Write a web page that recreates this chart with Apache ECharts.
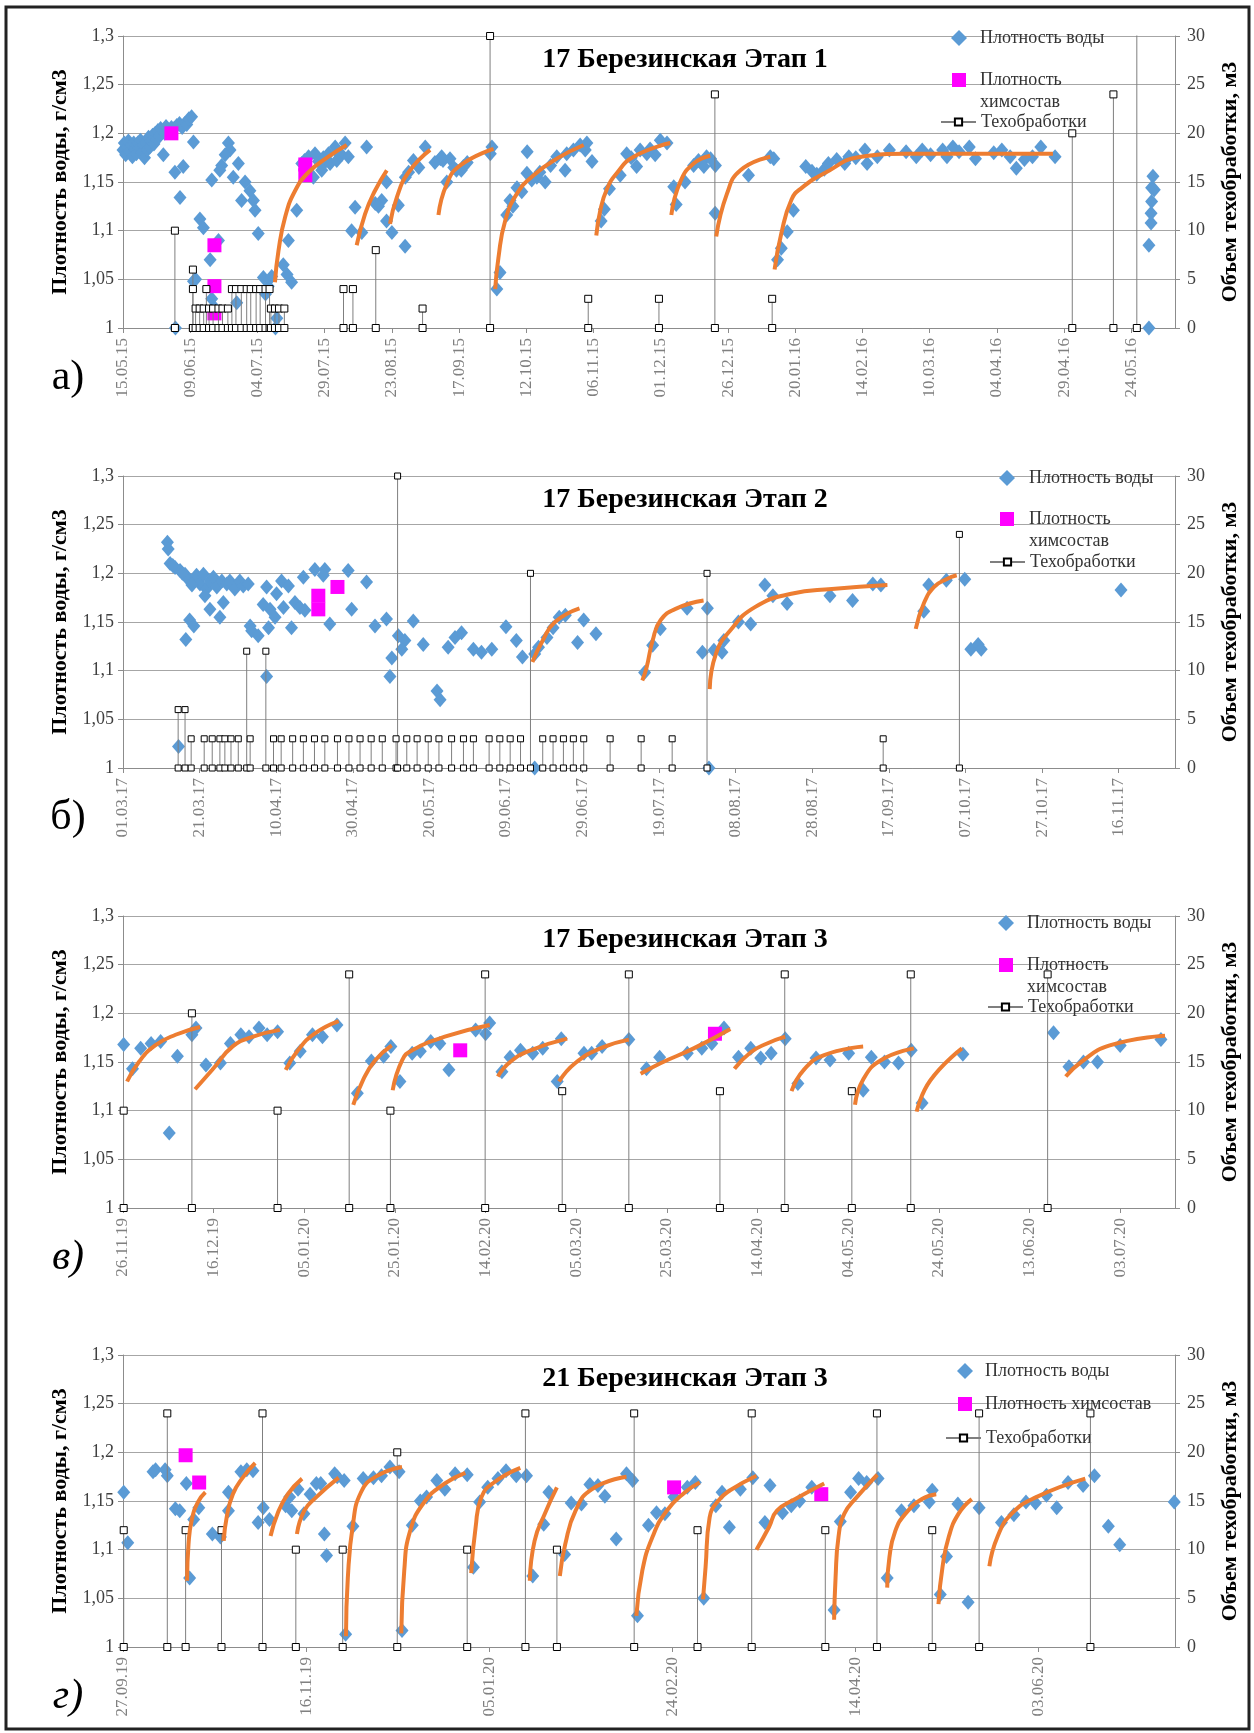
<!DOCTYPE html>
<html>
<head>
<meta charset="utf-8">
<title>Березинская</title>
<script src="https://cdn.jsdelivr.net/npm/echarts/dist/echarts.min.js"></script>
<style>
  body { margin: 0; background: #fff; }
  #chart { width: 1254px; height: 1733px; }
</style>
</head>
<body>
<div id="chart"></div>
<script>
// x = сутки от начала оси каждого графика, y = плотность (г/см3) или объем (м3)

// ---------- а) 17 Березинская Этап 1 (с 15.05.15) ----------
const densA = [
  [0,1.183],[0.5,1.19],[1,1.178],[1.5,1.186],[2,1.192],[2.5,1.181],[3,1.188],[3.5,1.176],[4,1.19],[4.5,1.184],
  [5,1.179],[5.5,1.19],[6,1.185],[6.5,1.193],[7,1.18],[7.5,1.188],[8,1.175],[8.5,1.19],[9,1.183],[9.5,1.196],
  [10,1.186],[10.5,1.192],[11,1.198],[11.5,1.189],[12,1.2],[12.5,1.194],[13,1.203],[13.5,1.197],[14,1.205],[15,1.178],
  [15.5,1.2],[16,1.207],[17,1.203],[18,1.206],[19,1.205],[19.5,1.0],[20,1.208],[21,1.21],[22,1.206],[23,1.21],
  [23.7,1.209],[24.5,1.215],[25.5,1.217],[26.2,1.191],[19.3,1.16],[22.4,1.166],[21.2,1.134],
  [28.6,1.112],[29.9,1.103],[32.4,1.07],[26.2,1.048],[27,1.05],[35.5,1.09],[34,1.021],[33,1.03],[39.2,1.19],
  [39.8,1.183],[38,1.178],[36.7,1.167],[36,1.162],[42.9,1.169],[33,1.152],[41,1.155],[45.4,1.15],[47.2,1.141],[44.1,1.131],
  [48.5,1.131],[49.1,1.121],[50.3,1.097],[52.2,1.052],[55.3,1.053],[54,1.043],[62.7,1.047],[61,1.055],[59.6,1.065],[61.5,1.09],
  [64.6,1.121],[42.3,1.026],[57.2,1.01],[56.7,1.0],[53,1.035],
  [66.5,1.169],[67.5,1.172],[69,1.176],[70.8,1.155],[71.4,1.179],[72.7,1.171],[73.9,1.162],[75,1.17],[76.4,1.179],[77,1.169],
  [78.9,1.186],[80,1.18],[81.3,1.178],[82.6,1.19],[83.8,1.176],[68,1.165],[74.5,1.175],[79.5,1.172],
  [90.6,1.186],[86.3,1.124],[85,1.1],[88.8,1.098],[93.8,1.128],[96.2,1.131],[95,1.125],[98,1.15],[104.9,1.084],[100,1.098],
  [98,1.11],[102.4,1.126],[105,1.155],[106.2,1.16],[108,1.172],[110,1.165],[112.4,1.186],[118,1.174],[116,1.17],[119,1.172],
  [120.4,1.15],[121.6,1.174],[123,1.165],[124,1.162],[125.8,1.162],[126.6,1.166],[128,1.17],[118.5,1.176],
  [136.6,1.179],[137.2,1.186],[139,1.04],[140.2,1.057],[142.7,1.116],[143.9,1.131],[145,1.125],[148.3,1.14],[150.3,1.181],[150.2,1.159],
  [153.9,1.155],[155,1.16],[157,1.15],[159,1.167],[161.3,1.176],[164.4,1.162],[165,1.179],[167.5,1.183],[170,1.188],[171.9,1.183],
  [172.5,1.19],[174.4,1.171],[146.5,1.144],[152,1.152],
  [177.8,1.11],[179,1.122],[180.9,1.143],[184.9,1.157],[187.3,1.179],[191,1.166],[192.3,1.183],[194.8,1.179],[197.9,1.178],[199.8,1.193],
  [202.3,1.19],[189,1.175],[196,1.184],
  [204.8,1.145],[205.7,1.127],[209,1.15],[212.2,1.167],[214,1.172],[217,1.176],[216,1.166],[220.3,1.167],[218.5,1.174],
  [220.2,1.118],[232.6,1.157],[240.7,1.176],[242,1.174],
  [243.4,1.07],[244.8,1.082],[247,1.099],[249.3,1.121],[253.9,1.166],[256.2,1.161],[258,1.158],[260.8,1.163],[262.3,1.169],[265.4,1.173],
  [268.4,1.169],[269.9,1.176],[272.5,1.175],[275.9,1.183],[276.7,1.169],[280.5,1.176],[285,1.183],[291.2,1.181],[295,1.176],[297.2,1.183],
  [300.3,1.178],[304.8,1.183],[306.4,1.176],[308.6,1.186],[310.9,1.181],[314.7,1.186],[317,1.174],[323.8,1.18],[326.8,1.183],[329.9,1.176],
  [332.2,1.164],[335.2,1.173],[338.2,1.176],[341.3,1.186],[346.6,1.176],
  [381.5,1.0],[381.5,1.085],[382.3,1.108],[382.3,1.118],[382.5,1.13],[382.5,1.144],[383,1.156],[383.5,1.142]
];
const chemA = [[18,1.2],[34,1.085],[34,1.043],[34,1.015],[67.8,1.168],[67.8,1.157]];
const treatA = [
  [19.3,10],[26,6],[26,4],[31,4],
  [27,2],[28.5,2],[30,2],[32,2],[33.5,2],[35.5,2],[37,2],[39,2],
  [40.5,4],[42,4],[44,4],[46,4],[47.5,4],[49.5,4],[51,4],[53,4],[54.5,4],
  [55,2],[56.5,2],[58,2],[60,2],
  [82,4],[85.5,4],[94,8],[111.4,2],[136.5,30],[173,3],[199.3,3],[220.1,24],[241.4,3],[353,20],[368.3,24],[377,35]
];
const fitA = [
  [[56.5,1.047],[57.8,1.079],[60.3,1.114],[64,1.141],[69,1.16],[76.4,1.176],[83.2,1.188]],
  [[86.9,1.085],[90,1.117],[93.7,1.141],[98.1,1.162]],
  [[99.3,1.107],[101.8,1.134],[106.2,1.16],[114.2,1.183]],
  [[117.3,1.116],[120.4,1.148],[125.4,1.167],[137.8,1.184]],
  [[138.4,1.04],[139.6,1.072],[142.1,1.11],[146.5,1.138],[152.7,1.157],[161.3,1.174],[171.3,1.188]],
  [[176,1.095],[177.5,1.121],[180,1.143],[183.6,1.159],[189.9,1.176],[203.5,1.19]],
  [[203.9,1.116],[207.2,1.15],[212.2,1.169],[218.4,1.177]],
  [[220.6,1.094],[224.6,1.138],[229.6,1.162],[240.7,1.176]],
  [[242.3,1.06],[244.8,1.097],[248.6,1.132],[252.4,1.144],[260.8,1.159],[274.5,1.176],[291.2,1.179],[345.8,1.179]]
];

// ---------- б) 17 Березинская Этап 2 (с 01.03.17) ----------
const densB = [
  [11.6,1.232],[11.8,1.225],[12.3,1.21],[13.6,1.206],[14.9,1.203],[16.2,1.199],[17,1.194],[18.4,1.192],[19.2,1.198],[20.1,1.189],
  [21,1.199],[21.8,1.184],[22.7,1.192],[23.6,1.196],[24.5,1.186],[25.8,1.192],[27.1,1.189],[27.9,1.192],[29.2,1.184],[30.5,1.192],
  [31.4,1.187],[32.7,1.189],[13,1.208],[15.5,1.2],[18,1.188],[21.4,1.177],[22.7,1.163],[26.2,1.17],[25.3,1.155],[17.4,1.152],
  [18.5,1.146],[16.4,1.132],[14.5,1.022],
  [33.2,1.146],[33.6,1.141],[35.3,1.136],[37.5,1.186],[36.6,1.168],[38.4,1.163],[38,1.144],[40.1,1.179],[41.4,1.192],[43.2,1.187],
  [41.9,1.165],[39.7,1.155],[37.5,1.094],[44,1.144],[44.9,1.17],[46.2,1.165],[47.5,1.162],[47.1,1.196],[50.1,1.204],[52.7,1.204],
  [52.3,1.198],[58.8,1.203],[54,1.148],[59.7,1.163],[63.6,1.191],[65.8,1.146],[68.8,1.153],[71.9,1.136],[73.6,1.131],[75.8,1.151],
  [78.4,1.127],[70.2,1.113],[69.7,1.094],[72.8,1.122],[82,1.079],[82.8,1.07],[84.9,1.124],[86.7,1.134],[88.4,1.139],[91.5,1.122],
  [93.6,1.119],[96.3,1.122],
  [100,1.145],[102.7,1.131],[104.3,1.114],[107.5,1.117],[108.5,1.124],[110.7,1.134],[112.3,1.144],[113.9,1.155],[115.5,1.157],[118.7,1.129],
  [120.3,1.152],[123.5,1.138],[107.5,1.0],
  [136.2,1.098],[138.3,1.126],[140.3,1.143],[147.3,1.164],[152.6,1.164],[151.3,1.119],[154.3,1.121],[156.4,1.119],[156.9,1.131],[160.7,1.15],
  [163.9,1.148],[167.6,1.188],[169.7,1.177],[173.4,1.169],[184.6,1.177],[190.5,1.172],[195.8,1.189],[197.9,1.188],[153,1.0],
  [209.1,1.161],[210.4,1.188],[215,1.193],[219.8,1.194],[221.4,1.122],[223.3,1.127],[224.1,1.122],[260.6,1.183]
];
const chemB = [[51,1.177],[51,1.163],[56,1.186]];
const treatB = [
  [14.4,6],[16.2,6],[17.8,3],[21.2,3],[23.3,3],[25.3,3],[26.6,3],[28.2,3],[30.1,3],[32.3,12],[33.2,3],[37.3,12],[39.3,3],
  [41.3,3],[44.3,3],[47.1,3],[50,3],[52.7,3],[56,3],[59,3],[61.9,3],[64.8,3],[67.7,3],[71.3,3],[71.7,30],[74.1,3],
  [76.8,3],[79.7,3],[82.5,3],[85.8,3],[88.9,3],[91.5,3],[95.6,3],[98.4,3],[101.1,3],[103.8,3],[106.4,20],[109.6,3],
  [112.3,3],[115,3],[117.6,3],[120.3,3],[127.2,3],[135.3,3],[143.4,3],[152.5,20],[198.5,3],[218.4,24]
];
const fitB = [
  [[106.9,1.109],[109.6,1.131],[112.8,1.15],[119.2,1.164]],
  [[135.6,1.09],[136.7,1.103],[138.3,1.131],[140.4,1.152],[144.6,1.164],[151.6,1.172]],
  [[153.2,1.081],[154.8,1.117],[158.5,1.141],[164.9,1.165],[174.5,1.179],[185.1,1.184],[199.6,1.188]],
  [[207,1.143],[209.1,1.169],[211.8,1.186],[215,1.194],[217.7,1.198]]
];

// ---------- в) 17 Березинская Этап 3 (с 26.11.19) ----------
const densC = [
  [0.15,1.168],[2.1,1.143],[3.9,1.164],[6.2,1.169],[8.3,1.171],[10.2,1.077],[12,1.156],[15.2,1.178],[16.1,1.185],[18.3,1.147],
  [21.5,1.149],[23.7,1.169],[26,1.178],[27.8,1.176],[30,1.185],[31.8,1.178],[34.1,1.181],[36.8,1.149],[39.1,1.161],[41.8,1.178],
  [44,1.176],[47.2,1.188],[51.7,1.118],[54.8,1.151],[57.5,1.156],[59.1,1.166],[61.1,1.13],[63.8,1.159],[65.6,1.161],[67.9,1.171],
  [69.9,1.169],[71.9,1.142],[77.8,1.183],[80,1.179],[80.9,1.19],[83.6,1.14],[85.4,1.155],[87.7,1.162],[90.4,1.159],[92.6,1.164],
  [95.8,1.13],[96.7,1.174],[101.7,1.159],[103.4,1.159],[105.7,1.166],[111.6,1.173],
  [115.5,1.143],[118.4,1.155],[124.5,1.159],[127.7,1.164],[129.9,1.169],[132.6,1.185],[135.8,1.155],[138.5,1.164],[140.7,1.154],[143,1.159],
  [146.1,1.174],[148.9,1.128],[152.9,1.154],[156,1.152],[160.1,1.159],[163.3,1.121],[165.1,1.155],[168,1.15],[171.1,1.149],[173.9,1.162],
  [176.3,1.108],[185.3,1.158],[205.3,1.18],[208.7,1.145],[211.9,1.15],[215,1.15],[220,1.167],[229,1.173]
];
const chemC = [[74.4,1.162],[130.6,1.179]];
const treatC = [
  [0.15,10],[15.2,20],[34.1,10],[49.9,24],[59,10],[79.9,24],[96.9,12],[111.6,24],[131.7,12],[146,24],[160.8,12],[173.8,24],[204,24]
];
const fitC = [
  [[0.9,1.13],[3.5,1.15],[7.1,1.167],[11.6,1.178],[17,1.186]],
  [[15.9,1.122],[19.7,1.142],[24.2,1.166],[28.7,1.176],[34.6,1.183]],
  [[35.9,1.142],[38.6,1.162],[42.2,1.179],[47.6,1.192]],
  [[50.8,1.106],[53,1.132],[55.7,1.152],[59.3,1.167]],
  [[59.5,1.121],[61.6,1.152],[63.8,1.162],[71,1.176],[80.9,1.188]],
  [[82.7,1.135],[85.4,1.15],[89.9,1.162],[98,1.174]],
  [[96.2,1.13],[99.8,1.149],[105.3,1.164],[111.6,1.173]],
  [[114.2,1.138],[118.7,1.149],[125.9,1.164],[134,1.184]],
  [[134.9,1.143],[138.5,1.16],[142.1,1.169],[146.1,1.176]],
  [[147.5,1.12],[150.2,1.142],[154.7,1.157],[163.3,1.166]],
  [[161.5,1.106],[163.3,1.132],[167.3,1.152],[174.5,1.164]],
  [[175.1,1.099],[178.1,1.131],[185.1,1.164]],
  [[208,1.135],[211.4,1.15],[217.7,1.167],[229.9,1.177]]
];

// ---------- г) 21 Березинская Этап 3 (с 27.09.19) ----------
const densD = [
  [0.2,1.159],[1.3,1.107],[8.2,1.18],[8.9,1.182],[11.5,1.182],[12.1,1.176],[14.3,1.142],[15.5,1.14],[17.3,1.168],[18.2,1.071],
  [19.3,1.131],[20.7,1.143],[24.4,1.116],[26.6,1.113],[28.8,1.159],[28.8,1.14],[32.2,1.18],[33.8,1.182],[35.5,1.181],[36.9,1.128],
  [38.3,1.143],[40,1.131],[44.4,1.145],[46.1,1.14],[45.5,1.154],[47.8,1.162],[49.4,1.137],[51.1,1.157],[52.8,1.168],[54,1.168],
  [55.6,1.094],[55,1.116],[57.8,1.178],[58.5,1.175],[60.4,1.171],[60.8,1.013],[62.8,1.124],[65.6,1.173],[68.4,1.174],[70.6,1.176],
  [72.9,1.185],[75.4,1.18],[76.2,1.017],[79,1.125],[81.2,1.15],[82.9,1.154],[85.7,1.171],[87.9,1.162],[90.7,1.178],[94,1.177],
  [95.7,1.082],[97.4,1.149],[99.6,1.164],[102.4,1.173],[104.6,1.181],[107.4,1.176],[110.2,1.176],[111.9,1.073],[114.9,1.126],[116.3,1.159],
  [120.6,1.095],[122.4,1.148],[125.2,1.147],[127.5,1.167],[129.7,1.166],[131.6,1.155],[134.7,1.111],[137.5,1.178],[139.2,1.171],[140.5,1.032],
  [143.5,1.125],[145.7,1.138],[148,1.137],[150.5,1.154],[154.1,1.164],[156.3,1.169],[158.6,1.05],[161.9,1.145],[163.6,1.159],[165.6,1.123],
  [168.6,1.162],[172,1.174],[176.7,1.166],[175.3,1.128],[180.1,1.138],[182.5,1.145],[184.8,1.15],[188.1,1.164],[194.2,1.038],[195.9,1.129],
  [198.7,1.159],[200.9,1.173],[203.1,1.169],[206.2,1.173],[208.7,1.071],[212.6,1.14],[216,1.145],[220.2,1.149],[221,1.161],[223.2,1.054],
  [224.9,1.093],[228,1.147],[230.8,1.046],[233.8,1.143],[239.9,1.128],[243.3,1.136],[246.6,1.149],[249.2,1.148],[252.2,1.156],[255,1.143],
  [258.1,1.169],[262.2,1.166],[265.3,1.176],[269.1,1.124],[272.2,1.105],[287.1,1.149]
];
const chemD = [[17.1,1.197],[20.8,1.169],[150.5,1.164],[190.7,1.157]];
const treatD = [
  [0.2,12],[12.1,24],[17.1,12],[26.9,12],[38.1,24],[47.2,10],[60,10],[74.9,20],[94,10],[109.9,24],[118.5,10],[139.6,24],
  [156.9,12],[171.7,24],[191.8,12],[205.9,24],[221,12],[233.8,24],[264.2,24]
];
const fitD = [
  [[17.5,1.068],[17.9,1.106],[18.8,1.131],[20.5,1.149],[22.5,1.159]],
  [[27.5,1.109],[28.3,1.133],[30,1.157],[32.7,1.174],[36.1,1.189]],
  [[40.3,1.114],[42.2,1.137],[45,1.157],[48.9,1.173]],
  [[47.5,1.116],[49.5,1.14],[52.8,1.154],[58.9,1.174]],
  [[60.9,1.011],[61.4,1.071],[62.8,1.126],[65,1.159],[69,1.175],[76.2,1.185]],
  [[76,1.014],[76.8,1.078],[78.4,1.119],[82.3,1.149],[87.9,1.168],[93.5,1.179]],
  [[95.1,1.076],[96.3,1.123],[97.9,1.154],[101.3,1.169],[108.5,1.184]],
  [[111.1,1.068],[112.4,1.109],[115.2,1.137],[118.5,1.164]],
  [[119.3,1.073],[120.8,1.106],[123.6,1.14],[128,1.162],[137.5,1.175]],
  [[140.2,1.032],[141.8,1.078],[144.6,1.113],[148.5,1.14],[153.5,1.159],[157.5,1.169]],
  [[158.4,1.049],[159.1,1.082],[160.2,1.133],[162.5,1.15],[165.8,1.161],[173,1.176]],
  [[173,1.1],[176.4,1.123],[178.6,1.14],[183.6,1.152],[191.5,1.168]],
  [[194.2,1.028],[194.6,1.071],[195.4,1.113],[197,1.137],[200.4,1.154],[206,1.177]],
  [[208.7,1.061],[209.3,1.092],[210.9,1.119],[213.7,1.137],[218.2,1.152],[222.1,1.157]],
  [[222.7,1.044],[223.8,1.082],[225.5,1.113],[228.2,1.137],[231.8,1.152]],
  [[236.6,1.083],[238.8,1.113],[242.7,1.137],[249.4,1.154],[262.8,1.173]]
];

const FONT = 'Liberation Serif, Times New Roman, serif';
const DAY = 86400000;

const panels = [
  { title: '17 Березинская Этап 1', tag: 'а)', italic: false, start: [2015, 4, 15], step: 25, max: 391.2, top: 36,
    dens: densA, chem: chemA, treat: treatA, fit: fitA, iconX: 959, textX: 980, legY: [38, 80, 122], wrap: true, stemSize: 7 },
  { title: '17 Березинская Этап 2', tag: 'б)', italic: false, start: [2017, 2, 1], step: 20, max: 274.7, top: 476,
    dens: densB, chem: chemB, treat: treatB, fit: fitB, iconX: 1007, textX: 1029, legY: [478, 519, 562], wrap: true, stemSize: 6 },
  { title: '17 Березинская Этап 3', tag: 'в)', italic: true, start: [2019, 10, 26], step: 20, max: 232.1, top: 916,
    dens: densC, chem: chemC, treat: treatC, fit: fitC, iconX: 1006, textX: 1027, legY: [923, 965, 1007], wrap: true, stemSize: 7 },
  { title: '21 Березинская Этап 3', tag: 'г)', italic: true, start: [2019, 8, 27], step: 50, max: 287.3, top: 1355,
    dens: densD, chem: chemD, treat: treatD, fit: fitD, iconX: 965, textX: 985, legY: [1371, 1404, 1438], wrap: false, stemSize: 7 }
];

function fmtDate(start, v) {
  const d = new Date(Date.UTC(start[0], start[1], start[2]) + Math.round(v) * DAY);
  const p = n => (n < 10 ? '0' : '') + n;
  return p(d.getUTCDate()) + '.' + p(d.getUTCMonth() + 1) + '.' + p(d.getUTCFullYear() % 100);
}
function stems(list) {
  const out = [];
  list.forEach(([d, v]) => { out.push([d, 0], [d, v], [d, '-']); });
  return out;
}
function joinSegs(list) {
  const out = [];
  list.forEach(s => { s.forEach(pt => out.push(pt)); out.push([s[s.length - 1][0], '-']); });
  return out;
}
const commaFmt = v => String(Math.round(v * 100) / 100).replace('.', ',');

const grid = [], xAxis = [], yAxis = [], series = [], legend = [], graphic = [];

panels.forEach((p, i) => {
  grid.push({ left: 123, width: 1052, top: p.top, height: 292, outerBoundsMode: 'none' });
  xAxis.push({
    type: 'value', gridIndex: i, min: 0, max: p.max, interval: p.step,
    splitLine: { show: false },
    axisLine: { lineStyle: { color: '#8c8c8c' } },
    axisTick: { length: 5, lineStyle: { color: '#8c8c8c' } },
    axisLabel: { rotate: 90, margin: 10, showMaxLabel: false, fontFamily: FONT, fontSize: 17, color: '#808080',
      formatter: v => fmtDate(p.start, v) }
  });
  yAxis.push({
    type: 'value', gridIndex: i, min: 1, max: 1.3, interval: 0.05, position: 'left',
    name: 'Плотность воды, г/см3', nameLocation: 'middle', nameGap: 50,
    nameTextStyle: { fontFamily: FONT, fontSize: 22, fontWeight: 'bold', color: '#000' },
    splitLine: { lineStyle: { color: '#a6a6a6' } },
    axisLine: { show: true, lineStyle: { color: '#8c8c8c' } },
    axisTick: { show: true, length: 5, lineStyle: { color: '#8c8c8c' } },
    axisLabel: { margin: 9, fontFamily: FONT, fontSize: 18, color: '#404040', formatter: commaFmt }
  });
  yAxis.push({
    type: 'value', gridIndex: i, min: 0, max: 30, interval: 5, position: 'right',
    name: 'Объем техобработки, м3', nameLocation: 'middle', nameGap: 44,
    nameTextStyle: { fontFamily: FONT, fontSize: 22, fontWeight: 'bold', color: '#000' },
    splitLine: { show: false },
    axisLine: { show: true, lineStyle: { color: '#8c8c8c' } },
    axisTick: { show: true, length: 5, lineStyle: { color: '#8c8c8c' } },
    axisLabel: { margin: 12, fontFamily: FONT, fontSize: 18, color: '#404040' }
  });

  series.push({
    name: 'Плотность воды', type: 'scatter', xAxisIndex: i, yAxisIndex: 2 * i, data: p.dens,
    symbol: 'diamond', symbolSize: [13, 15], itemStyle: { color: '#5B9BD5', opacity: 1 }, z: 2
  });
  series.push({
    name: 'Плотность химсостав', type: 'scatter', xAxisIndex: i, yAxisIndex: 2 * i, data: p.chem,
    symbol: 'rect', symbolSize: 14, itemStyle: { color: '#FF00FF', opacity: 1 }, z: 3
  });
  series.push({
    name: 'Техобработки', type: 'line', xAxisIndex: i, yAxisIndex: 2 * i + 1, data: stems(p.treat),
    symbol: 'rect', symbolSize: p.stemSize, showSymbol: true, clip: true, connectNulls: false,
    lineStyle: { color: '#7f7f7f', width: 1 },
    itemStyle: { color: '#ffffff', borderColor: '#000000', borderWidth: 1 }, z: 4
  });
  series.push({
    name: 'Тренд', type: 'line', xAxisIndex: i, yAxisIndex: 2 * i, data: joinSegs(p.fit),
    smooth: 0.5, showSymbol: false, symbol: 'none', connectNulls: false,
    lineStyle: { color: '#ED7D31', width: 4 }, z: 5
  });

  const txt = pad => ({ fontFamily: FONT, fontSize: 18, color: '#333', lineHeight: 22, padding: [0, 0, 0, pad] });
  const base = { orient: 'vertical', padding: 0, selectedMode: false };
  // diamond: square icon box centred on iconX
  legend.push(Object.assign({}, base, {
    left: p.iconX - 8, top: p.legY[0] - 11, itemWidth: 16, itemHeight: 16, icon: 'diamond',
    textStyle: txt(p.textX - (p.iconX - 8 + 21)), data: ['Плотность воды']
  }));
  legend.push(Object.assign({}, base, {
    left: p.iconX - 7, top: p.legY[1] - (p.wrap ? 33 : 11), itemWidth: 14, itemHeight: 14, icon: 'rect',
    textStyle: txt(p.textX - (p.iconX - 7 + 19)), data: ['Плотность химсостав'],
    formatter: p.wrap ? () => '\u00a0\nПлотность\nхимсостав' : '{name}'
  }));
  legend.push(Object.assign({}, base, {
    left: p.textX - 40, top: p.legY[2] - 11, itemWidth: 35, itemHeight: 9,
    textStyle: txt(0), data: ['Техобработки']
  }));

  graphic.push({
    type: 'text', x: 685, y: p.top + 24,
    style: { text: p.title, fontFamily: FONT, fontSize: 28, fontWeight: 'bold', fill: '#000', align: 'center', verticalAlign: 'middle' }
  });
  graphic.push({
    type: 'text', x: 68, y: p.top + 342,
    style: { text: p.tag, fontFamily: FONT, fontSize: 42, fontStyle: p.italic ? 'italic' : 'normal', fill: '#000', align: 'center', verticalAlign: 'middle' }
  });
});

graphic.push({
  type: 'rect', silent: true, z: -10,
  shape: { x: 6, y: 7, width: 1243, height: 1722 },
  style: { fill: 'none', stroke: '#222', lineWidth: 3 }
});

const chart = echarts.init(document.getElementById('chart'), null, { renderer: 'canvas' });
chart.setOption({
  backgroundColor: '#ffffff',
  animation: false,
  grid: grid,
  xAxis: xAxis,
  yAxis: yAxis,
  legend: legend,
  series: series,
  graphic: graphic
});
</script>
</body>
</html>
